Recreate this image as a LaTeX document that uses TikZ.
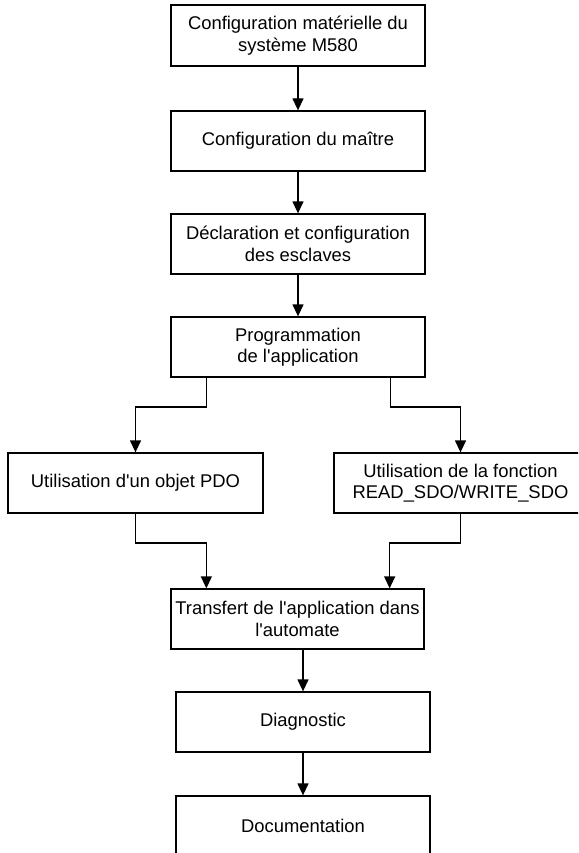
\documentclass[tikz,border=0pt]{standalone}
\usepackage{fontspec}
% keep the straight apostrophe as typed
\setmainfont{Liberation Sans}[Ligatures=TeXOff]
\usetikzlibrary{arrows.meta,calc}
\begin{document}
\begin{tikzpicture}[x=1pt,y=-1pt,
  stepbox/.style={draw=black,line width=1.3pt,fill=white,rectangle,
    minimum width=254pt,minimum height=60pt,inner sep=0pt,
    align=center,font=\fontsize{18.4}{21.5}\selectfont},
  arr/.style={draw=black,line width=1.3pt,-{Triangle[width=11pt,length=12pt]}},
  line/.style={draw=black,line width=1.3pt}]
  \useasboundingbox (0,0) rectangle (578,853);
  \clip (0,0) rectangle (578,853);

  % main column
  \node[stepbox,minimum height=61pt] (b1) at (298,35.5) {Configuration matérielle du\\système M580};
  \node[stepbox] (b2) at (298,141) {Configuration du maître};
  \node[stepbox] (b3) at (298,244) {Déclaration et configuration\\des esclaves};
  \node[stepbox] (b4) at (298,347) {Programmation\\de l'application};

  % the two alternatives
  \node[stepbox,minimum width=255pt] (pdo) at (135.5,483) {Utilisation d'un objet PDO};
  \node[stepbox,minimum width=253pt] (sdo) at (460.5,483) {Utilisation de la fonction\\READ\_SDO/WRITE\_SDO};

  % final steps
  \node[stepbox,minimum width=253pt] (tr) at (297.5,619) {Transfert de l'application dans\\l'automate};
  \node[stepbox] (dg) at (303,722) {Diagnostic};
  \node[stepbox] (doc) at (303,826) {Documentation};

  % straight links
  \draw[arr] (b1) -- (b2);
  \draw[arr] (b2) -- (b3);
  \draw[arr] (b3) -- (b4);

  % split towards the alternatives
  \coordinate (split) at (298,407);
  \coordinate (p1) at ([xshift=36pt]b4.south west);
  \coordinate (p2) at ([xshift=-35pt]b4.south east);
  \draw[arr] (p1) -- (p1 |- split) -| (pdo.north);
  \draw[arr] (p2) -- (p2 |- split) -| (sdo.north);

  % merge into the transfer step
  \coordinate (merge) at (298,543);
  \coordinate (p3) at ([xshift=36pt]tr.north west);
  \coordinate (p4) at ([xshift=-35pt]tr.north east);
  \draw[arr] (pdo.south) -- (pdo.south |- merge) -| (p3);
  \draw[arr] (sdo.south) -- (sdo.south |- merge) -| (p4);

  \draw[arr] (tr.south -| dg.north) -- (dg.north);
  \draw[arr] (dg) -- (doc);
\end{tikzpicture}
\end{document}
